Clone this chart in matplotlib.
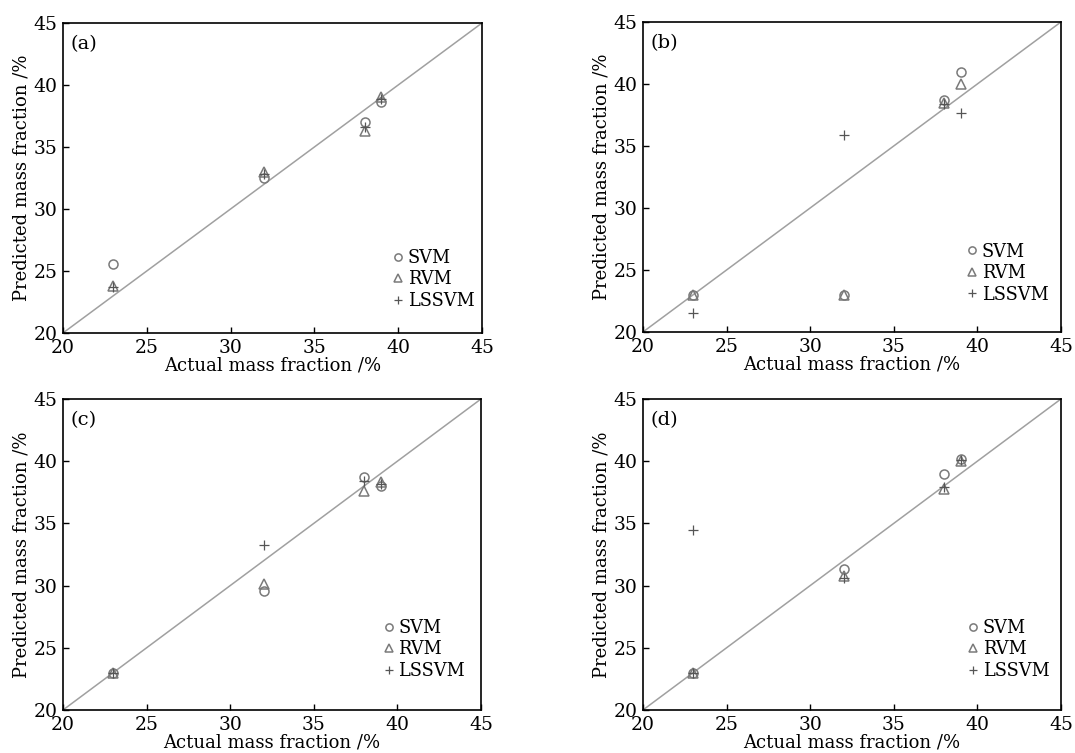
import matplotlib
matplotlib.use('Agg')
import matplotlib.pyplot as plt
import numpy as np

# ============================================================================
# Datos
# ============================================================================
actual = [23, 32, 38, 39]

svm_a = [25.6, 32.5, 37.0, 38.6]
rvm_a = [23.8, 33.0, 36.3, 39.0]
lssvm_a = [23.7, 32.8, 36.6, 38.9]

svm_b = [23.0, 23.0, 38.7, 41.0]
rvm_b = [23.0, 23.0, 38.5, 40.0]
lssvm_b = [21.5, 35.9, 38.4, 37.7]

svm_c = [23.0, 29.6, 38.7, 38.0]
rvm_c = [23.0, 30.1, 37.6, 38.3]
lssvm_c = [23.0, 33.3, 38.4, 38.2]

svm_d = [23.0, 31.3, 39.0, 40.2]
rvm_d = [23.0, 30.8, 37.8, 40.0]
lssvm_d = [23.0, 30.6, 37.9, 40.1]
lssvm_d_extra = [34.5]  # segundo punto LSSVM en x=23

panel_labels = ['(a)', '(b)', '(c)', '(d)']
ticks = [20, 25, 30, 35, 40, 45]

# ============================================================================
# Estilo
# ============================================================================
plt.rcParams['font.family'] = 'serif'
plt.rcParams['font.serif'] = ['DejaVu Serif']
plt.rcParams['font.size'] = 13
plt.rcParams['mathtext.fontset'] = 'dejavuserif'

gris = '#7a7a7a'

fig = plt.figure(figsize=(10.75, 7.53), dpi=100)

pos = [[0.0586, 0.5578, 0.3898, 0.4117],
       [0.5981, 0.5591, 0.3888, 0.4117],
       [0.0586, 0.0571, 0.3888, 0.4130],
       [0.5981, 0.0571, 0.3888, 0.4130]]
leg_anchor = [(0.78, 0.063), (0.768, 0.08), (0.76, 0.085), (0.77, 0.085)]

datos = [(svm_a, rvm_a, lssvm_a), (svm_b, rvm_b, lssvm_b),
         (svm_c, rvm_c, lssvm_c), (svm_d, rvm_d, lssvm_d)]

for k in range(4):
    ax = fig.add_axes(pos[k])
    svm, rvm, lssvm = datos[k]
    ax.plot([20, 45], [20, 45], color='#a0a0a0', lw=1.1, zorder=1)
    ax.plot(actual, svm, ls='none', marker='o', mfc='none', mec=gris,
            ms=6.5, mew=1.1, label='SVM')
    ax.plot(actual, rvm, ls='none', marker='^', mfc='none', mec=gris,
            ms=6.5, mew=1.1, label='RVM')
    xs = list(actual)
    ys = list(lssvm)
    if k == 3:
        xs = xs + [23]
        ys = ys + lssvm_d_extra
    ax.plot(xs, ys, ls='none', marker='+', color='#555555',
            ms=7, mew=0.9, label='LSSVM')

    ax.set_xlim(20, 45)
    ax.set_ylim(20, 45)
    ax.set_xticks(ticks)
    ax.set_yticks(ticks)
    ax.tick_params(direction='in', length=4, width=1, labelsize=13.5)
    ax.tick_params(axis='x', pad=4)
    ax.tick_params(axis='y', pad=4)
    for s in ax.spines.values():
        s.set_linewidth(1.2)
    ax.set_xlabel('Actual mass fraction /%', labelpad=0, fontsize=13)
    ax.set_ylabel('Predicted mass fraction /%', labelpad=2, fontsize=13)
    ax.text(0.018, 0.96, panel_labels[k], transform=ax.transAxes,
            ha='left', va='top', fontsize=14)
    ax.legend(loc='lower left', bbox_to_anchor=leg_anchor[k], frameon=False,
              borderaxespad=0, handlelength=0.5, handletextpad=0.3,
              labelspacing=0.2, borderpad=0.2, fontsize=12.8, markerscale=0.8)

fig.savefig('out.png', dpi=100)
